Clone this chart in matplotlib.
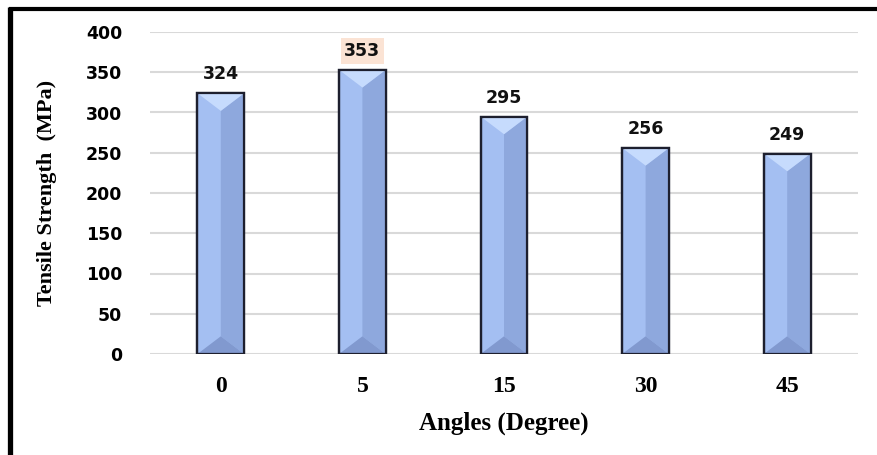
import matplotlib
matplotlib.use("Agg")
import matplotlib.pyplot as plt
from matplotlib.patches import Polygon
from matplotlib.lines import Line2D

angles = ["0", "5", "15", "30", "45"]
strength = [324, 353, 295, 256, 249]
highlight = "353"
y_ticks = [0, 50, 100, 150, 200, 250, 300, 350, 400]

W, H = 878, 455
fig = plt.figure(figsize=(W / 100, H / 100), dpi=100)
ax = fig.add_axes([150 / W, 1 - 354 / H, 708 / W, 322 / H])

x = list(range(len(angles)))
bar_w = 0.33
bevel = 22  # depth of the top/bottom bevel, in MPa units

face_left = "#a4bff2"
face_right = "#8ea8dd"
face_top = "#c6dbfd"
face_bottom = "#8199cf"
edge = "#1d1f2e"

bars = ax.bar(x, strength, width=bar_w, color=face_left, edgecolor=edge,
              linewidth=1.6, zorder=3)

for b, v in zip(bars, strength):
    x0 = b.get_x()
    x1 = x0 + b.get_width()
    xc = x0 + b.get_width() / 2
    # right-hand shaded face
    ax.add_patch(Polygon([(xc, bevel), (x1, 0), (x1, v), (xc, v - bevel)],
                         closed=True, facecolor=face_right, edgecolor="none", zorder=3.1))
    # top bevel
    ax.add_patch(Polygon([(x0, v), (x1, v), (xc, v - bevel)],
                         closed=True, facecolor=face_top, edgecolor="none", zorder=3.2))
    # bottom bevel
    ax.add_patch(Polygon([(x0, 0), (x1, 0), (xc, bevel)],
                         closed=True, facecolor=face_bottom, edgecolor="none", zorder=3.2))
    # outline on top of the shading
    ax.add_patch(Polygon([(x0, 0), (x0, v), (x1, v), (x1, 0)], closed=True,
                         facecolor="none", edgecolor=edge, linewidth=1.6, zorder=3.3))

    label = f"{v}"
    kw = dict(ha="center", va="bottom", fontsize=12.5, fontweight="bold",
              family="DejaVu Sans", color="#111111", zorder=4)
    if label == highlight:
        kw["bbox"] = dict(boxstyle="square,pad=0.22", facecolor="#fbe3d4", edgecolor="none")
    ax.annotate(label, (b.get_x() + b.get_width() / 2, v), xytext=(0, 7),
                textcoords="offset points", **kw)

ax.set_xlim(-0.5, len(angles) - 0.5)
ax.set_ylim(0, 400)
ax.set_yticks(y_ticks)
ax.set_yticklabels([str(t) for t in y_ticks], fontsize=12.5, fontweight="bold",
                   family="DejaVu Sans")
ax.set_xticks(x)
ax.set_xticklabels(angles, fontsize=17, fontweight="bold", family="Liberation Serif")
ax.tick_params(axis="y", length=0, pad=20)
ax.tick_params(axis="x", length=0, pad=16)

ax.grid(axis="y", color="#d9d9d9", linewidth=1.5, zorder=0)
ax.set_axisbelow(True)
for s in ax.spines.values():
    s.set_visible(False)

ax.set_xlabel("Angles (Degree)", fontsize=18, fontweight="bold",
              family="Liberation Serif", labelpad=10)
ax.set_ylabel("Tensile Strength  (MPa)", fontsize=16, fontweight="bold",
              family="Liberation Serif", labelpad=21)

# outer frame: thick left and top rules
fig.add_artist(Line2D([10.5 / W, 10.5 / W], [0, 1 - 7 / H], color="black",
                      linewidth=3.8, transform=fig.transFigure, solid_capstyle="butt"))
fig.add_artist(Line2D([8.6 / W, 1], [1 - 8.5 / H, 1 - 8.5 / H], color="black",
                      linewidth=3.0, transform=fig.transFigure, solid_capstyle="butt"))

fig.savefig("out.png", dpi=100)
